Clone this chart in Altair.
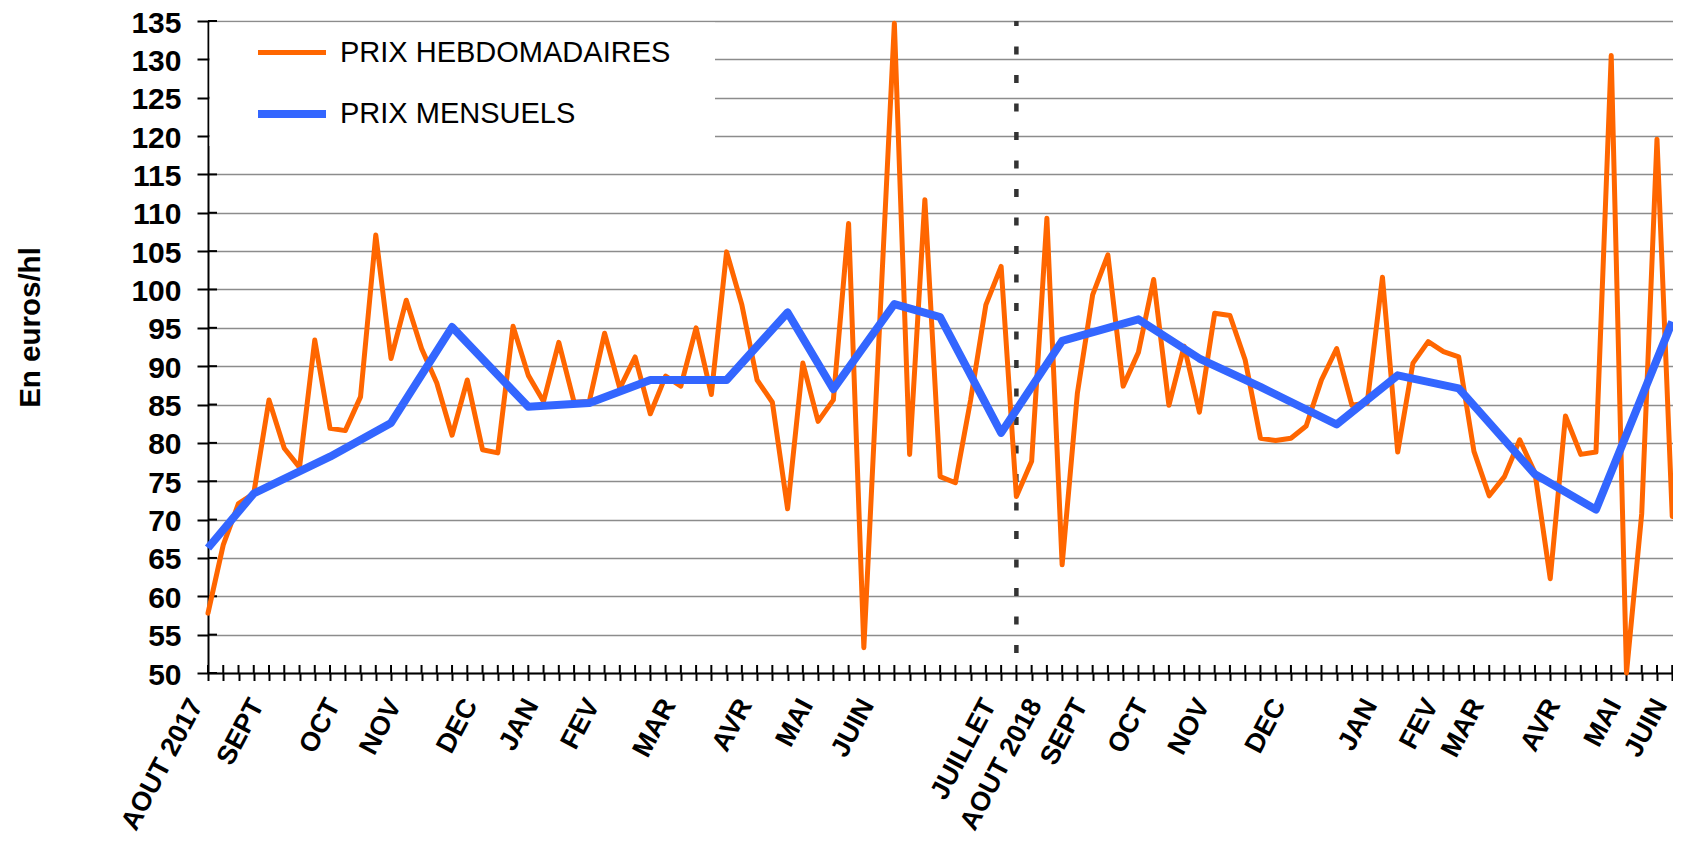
import json
import altair as alt
import pandas as pd

# ---------------- data ----------------
weekly_prices = [
    57.8, 66.7, 72.1, 73.4, 85.6, 79.3, 76.8, 93.4, 81.9, 81.6,
    86.0, 107.1, 91.0, 98.6, 92.3, 87.8, 81.0, 88.2, 79.1, 78.7,
    95.2, 88.8, 85.4, 93.1, 85.3, 85.4, 94.3, 87.1, 91.2, 83.8,
    88.7, 87.4, 95.0, 86.3, 104.9, 98.0, 88.2, 85.3, 71.4, 90.4,
    82.8, 85.6, 108.6, 53.3, 94.0, 134.7, 78.5, 111.7, 75.6, 74.8,
    85.6, 98.0, 103.0, 73.0, 77.6, 109.3, 64.1, 86.5, 99.3, 104.5,
    87.4, 91.8, 101.3, 84.9, 92.6, 84.0, 96.9, 96.6, 90.8, 80.6,
    80.3, 80.6, 82.2, 88.2, 92.3, 84.9, 85.2, 101.6, 78.8, 90.4,
    93.2, 91.9, 91.2, 78.9, 73.1, 75.6, 80.4, 76.1, 62.3, 83.5,
    78.5, 78.8, 130.5, 50.0, 70.8, 119.6, 70.4,
]
weeks = list(range(len(weekly_prices)))

monthly_weeks = [0, 3, 8, 12, 16, 21, 25, 29, 34, 38, 41, 45, 48, 52, 56, 61,
                 65, 69, 74, 78, 82, 87, 91, 96]
monthly_prices = [66.3, 73.4, 78.2, 82.6, 95.1, 84.7, 85.2, 88.2, 88.2, 97.0,
                  87.0, 98.1, 96.4, 81.3, 93.3, 96.1, 91.0, 87.3, 82.4, 88.8,
                  87.1, 75.9, 71.3, 95.8]

label_weeks = [0, 4, 9, 13, 18, 22, 26, 31, 36, 40, 44, 52, 55, 58, 62, 66,
               71, 77, 81, 84, 89, 93, 96]
label_names = ["AOUT 2017", "SEPT", "OCT", "NOV", "DEC", "JAN", "FEV", "MAR",
               "AVR", "MAI", "JUIN", "JUILLET", "AOUT 2018", "SEPT", "OCT",
               "NOV", "DEC", "JAN", "FEV", "MAR", "AVR", "MAI", "JUIN"]

y_ticks = list(range(50, 140, 5))
campaign_break = [53]
series_names = ["PRIX HEBDOMADAIRES", "PRIX MENSUELS"]

# ---------------- tables ----------------
weekly_df = pd.DataFrame({"week": weeks, "price": weekly_prices,
                          "series": series_names[0]})
monthly_df = pd.DataFrame({"week": monthly_weeks, "price": monthly_prices,
                           "series": series_names[1]})
ytick_df = pd.DataFrame({"price": y_ticks})
break_df = pd.DataFrame({"week": campaign_break})

FONT = "Liberation Sans"
W, H = 1465, 652

wk = json.dumps(label_weeks)
nm = json.dumps(label_names)
label_expr = f"indexof({wk}, datum.value) >= 0 ? {nm}[indexof({wk}, datum.value)] : ''"

x_scale = alt.Scale(domain=[0, 96.05], nice=False, zero=False)
y_scale = alt.Scale(domain=[50, 135], nice=False, zero=False)

x_axis = alt.Axis(values=weeks, labelExpr=label_expr, grid=False,
                  tickSize=7.5, tickWidth=2, tickColor="black",
                  domainColor="black", domainWidth=2,
                  labelAngle=-62, labelAlign="right", labelBaseline="middle",
                  labelFont=FONT, labelFontSize=27, labelFontWeight="bold",
                  labelColor="black", labelPadding=20, labelOffset=-12,
                  labelOverlap=False, labelFlush=False, labelBound=False,
                  title=None)
y_axis = alt.Axis(values=y_ticks, grid=True, gridColor="#8c8c8c", gridWidth=1.3,
                  tickSize=11, tickWidth=2, tickColor="black",
                  domainColor="black", domainWidth=2,
                  labelFont=FONT, labelFontSize=30, labelFontWeight="bold",
                  labelColor="black", labelPadding=16, labelOffset=2,
                  labelOverlap=False, labelBound=False, labelFlush=False,
                  title="En euros/hl",
                  titleFont="Liberation Sans Narrow, Liberation Sans",
                  titleFontSize=29.5, titleFontWeight="bold", titleColor="black",
                  titleAngle=-90, titleX=-178, titleY=306, titleAlign="center",
                  titleBaseline="middle")

legend = alt.Legend(orient="none", legendX=46, legendY=-5, title=None,
                    direction="vertical", symbolType="stroke", symbolSize=4624,
                    labelFont=FONT, labelFontSize=29, labelColor="black",
                    labelOffset=10, rowPadding=8, padding=0, labelLimit=0)

color_enc = alt.Color("series:N", scale=alt.Scale(domain=series_names,
                      range=["#FF6600", "#3366FF"]), legend=legend)
width_enc = alt.StrokeWidth("series:N", scale=alt.Scale(domain=series_names,
                            range=[5, 8]), legend=legend)

x_enc = alt.X("week:Q", scale=x_scale, axis=x_axis)
y_enc = alt.Y("price:Q", scale=y_scale, axis=y_axis)

# inward halves of the crossing tick marks
y_inner_ticks = alt.Chart(ytick_df).mark_rule(color="black", strokeWidth=2).encode(
    y=y_enc, x=alt.value(0), x2=alt.value(9))
x_inner_ticks = alt.Chart(weekly_df).mark_rule(color="black", strokeWidth=2).encode(
    x=x_enc, y=alt.value(H - 8), y2=alt.value(H))

# white legend box hiding the grid behind it
legend_box = alt.Chart(break_df).mark_rect(color="white").encode(
    x=alt.value(1.5), x2=alt.value(507), y=alt.value(1.5), y2=alt.value(125))

break_rule = alt.Chart(break_df).mark_rule(
    color="#333333", strokeWidth=4.5, strokeDash=[8, 20.5], strokeDashOffset=3
).encode(x=x_enc)

weekly_line = alt.Chart(weekly_df).mark_line(strokeCap="round", strokeJoin="round").encode(
    x=x_enc, y=y_enc, color=color_enc, strokeWidth=width_enc)
monthly_line = alt.Chart(monthly_df).mark_line(strokeJoin="round").encode(
    x=x_enc, y=y_enc, color=color_enc, strokeWidth=width_enc)

chart = alt.layer(
    y_inner_ticks, x_inner_ticks, legend_box, break_rule, weekly_line, monthly_line
).properties(
    width=W, height=H,
    autosize=alt.AutoSizeParams(type="none"),
    padding={"left": 200, "top": 13, "right": 0, "bottom": 161},
    background="white",
).configure_view(stroke=None).configure_axis(labelOverlap=False)

chart.save("out.html", embed_options={"renderer": "svg", "actions": False})
